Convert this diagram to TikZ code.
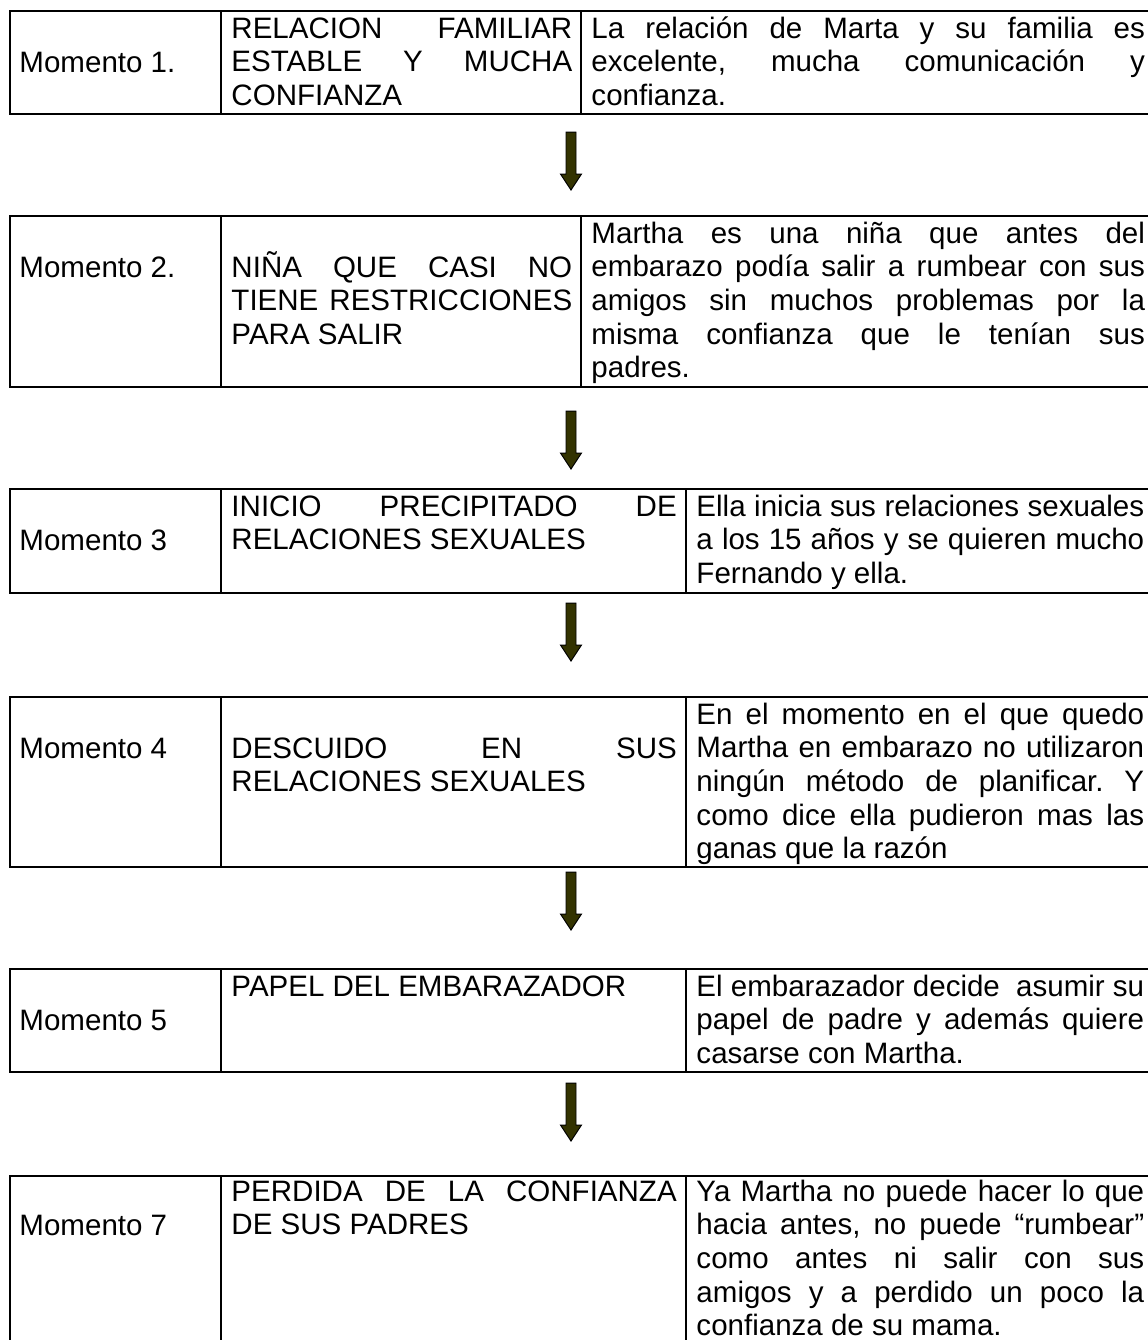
\documentclass[tikz,border=0pt]{standalone}
\usepackage{fontspec}
\setmainfont{Liberation Sans}
\usepackage{xcolor}
\definecolor{oliva}{RGB}{51,51,0}
\tolerance=10000
\hyphenpenalty=10000
\frenchspacing

\begin{document}
\begin{tikzpicture}[x=0.4065pt,y=-0.4065pt,
	borde/.style={line width=0.75pt},
	celda/.style={anchor=base west,inner sep=0pt,align=justify,font=\fontsize{12}{13.7}\selectfont},
	dosangosta/.style={celda,text width=138.5pt},
	dosancha/.style={celda,text width=181pt},
	tresancha/.style={celda,text width=225pt},
	tresangosta/.style={celda,text width=182pt},
	flecha/.pic={\filldraw[fill=oliva,draw=black,line width=0.4pt] (-5,0) -- (5,0) -- (5,42) -- (10.5,42) -- (0,58) -- (-10.5,42) -- (-5,42) -- cycle;}]
	\useasboundingbox (0,0) rectangle (1148,1340);
	\clip (0,0) rectangle (1148,1340);

	\draw[borde] (10,11) rectangle (1154,114);
	\draw[borde] (221,11) -- (221,114);
	\draw[borde] (581,11) -- (581,114);
	\node[celda] (m1) at (19,72) {Momento 1.};
	\node[dosangosta] (t1) at (231,38) {RELACION FAMILIAR\linebreak ESTABLE Y MUCHA\linebreak CONFIANZA};
	\node[tresancha] (d1) at (591,38) {La relación de Marta y su familia es\linebreak excelente, mucha comunicación y\linebreak confianza.};

	\pic (f1) at (571,132) {flecha};

	\draw[borde] (10,216) rectangle (1154,387);
	\draw[borde] (221,216) -- (221,387);
	\draw[borde] (581,216) -- (581,387);
	\node[celda] (m2) at (19,277) {Momento 2.};
	\node[dosangosta] (t2) at (231,277) {NIÑA QUE CASI NO\linebreak TIENE RESTRICCIONES\linebreak PARA SALIR};
	\node[tresancha] (d2) at (591,243) {Martha es una niña que antes del\linebreak embarazo podía salir a rumbear con sus\linebreak amigos sin muchos problemas por la\linebreak misma confianza que le tenían sus\linebreak padres.};

	\pic (f2) at (571,411) {flecha};

	\draw[borde] (10,489) rectangle (1154,593);
	\draw[borde] (221,489) -- (221,593);
	\draw[borde] (686,489) -- (686,593);
	\node[celda] (m3) at (19,550) {Momento 3};
	\node[dosancha] (t3) at (231,516) {INICIO PRECIPITADO DE\linebreak RELACIONES SEXUALES};
	\node[tresangosta] (d3) at (696,516) {Ella inicia sus relaciones sexuales\linebreak a los 15 años y se quieren mucho\linebreak Fernando y ella.};

	\pic (f3) at (571,603) {flecha};

	\draw[borde] (10,697) rectangle (1154,867);
	\draw[borde] (221,697) -- (221,867);
	\draw[borde] (686,697) -- (686,867);
	\node[celda] (m4) at (19,758) {Momento 4};
	\node[dosancha] (t4) at (231,758) {DESCUIDO EN SUS\linebreak RELACIONES SEXUALES};
	\node[tresangosta] (d4) at (696,724) {En el momento en el que quedo\linebreak Martha en embarazo no utilizaron\linebreak ningún método de planificar. Y\linebreak como dice ella pudieron mas las\linebreak ganas que la razón};

	\pic (f4) at (571,872) {flecha};

	\draw[borde] (10,969) rectangle (1154,1072);
	\draw[borde] (221,969) -- (221,1072);
	\draw[borde] (686,969) -- (686,1072);
	\node[celda] (m5) at (19,1030) {Momento 5};
	\node[dosancha] (t5) at (231,996) {PAPEL DEL EMBARAZADOR};
	\node[tresangosta] (d5) at (696,996) {El embarazador decide\ \ asumir su\linebreak papel de padre y además quiere\linebreak casarse con Martha.};

	\pic (f5) at (571,1083) {flecha};

	\draw[borde] (10,1176) rectangle (1154,1348);
	\draw[borde] (221,1176) -- (221,1348);
	\draw[borde] (686,1176) -- (686,1348);
	\node[celda] (m7) at (19,1235) {Momento 7};
	\node[dosancha] (t7) at (231,1201) {PERDIDA DE LA CONFIANZA\linebreak DE SUS PADRES};
	\node[tresangosta] (d7) at (696,1201) {Ya Martha no puede hacer lo que\linebreak hacia antes, no puede “rumbear”\linebreak como antes ni salir con sus\linebreak amigos y a perdido un poco la\linebreak confianza de su mama.};
\end{tikzpicture}
\end{document}
